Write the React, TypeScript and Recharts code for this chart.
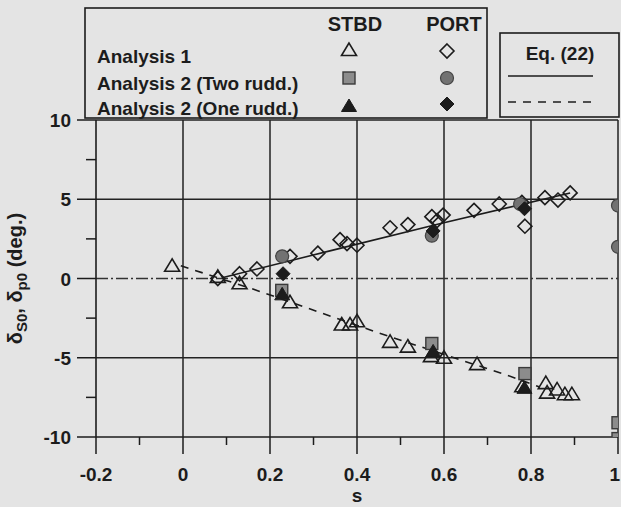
import React from 'react';
import {
  ComposedChart,
  XAxis,
  YAxis,
  Line,
  Scatter,
  ReferenceLine,
  Legend,
  Label,
} from 'recharts';

const BG = '#e4e4e4';
const INK = '#1c1c1c';
const FONT = '"Liberation Sans", Arial, Helvetica, sans-serif';

// axis ticks
const X_MAJOR = [-0.2, 0, 0.2, 0.4, 0.6, 0.8, 1];
const X_LABELS = ['-0.2', '0', '0.2', '0.4', '0.6', '0.8', '1'];
const X_MINOR = [-0.1, 0.1, 0.3, 0.5, 0.7, 0.9];
const Y_MAJOR = [10, 5, 0, -5, -10];
const Y_LABELS = ['10', '5', '0', '-5', '-10'];
const Y_MINOR = [7.5, 2.5, -2.5, -7.5];

// Analysis 1
const stbdAnalysis1 = [
  { x: -0.025, y: 0.8 }, { x: 0.08, y: 0.1 }, { x: 0.13, y: -0.3 },
  { x: 0.246, y: -1.5 }, { x: 0.365, y: -2.9 }, { x: 0.384, y: -2.9 },
  { x: 0.4, y: -2.7 }, { x: 0.476, y: -4.0 }, { x: 0.517, y: -4.3 },
  { x: 0.57, y: -4.9 }, { x: 0.6, y: -5.0 }, { x: 0.676, y: -5.4 },
  { x: 0.78, y: -6.8 }, { x: 0.834, y: -6.6 }, { x: 0.837, y: -7.2 },
  { x: 0.86, y: -7.0 }, { x: 0.878, y: -7.3 }, { x: 0.894, y: -7.3 },
];
const portAnalysis1 = [
  { x: 0.08, y: 0.0 }, { x: 0.13, y: 0.3 }, { x: 0.17, y: 0.6 },
  { x: 0.246, y: 1.4 }, { x: 0.31, y: 1.6 }, { x: 0.361, y: 2.45 },
  { x: 0.377, y: 2.2 }, { x: 0.4, y: 2.1 }, { x: 0.476, y: 3.2 },
  { x: 0.517, y: 3.4 }, { x: 0.572, y: 3.9 }, { x: 0.584, y: 3.65 },
  { x: 0.598, y: 4.0 }, { x: 0.669, y: 4.3 }, { x: 0.727, y: 4.7 },
  { x: 0.779, y: 4.8 }, { x: 0.786, y: 3.3 }, { x: 0.832, y: 5.1 },
  { x: 0.862, y: 4.95 }, { x: 0.89, y: 5.4 },
];

// Analysis 2
const stbdTwoRudd = [
  { x: 0.227, y: -0.75 }, { x: 0.572, y: -4.1 }, { x: 0.786, y: -6.0 },
  { x: 1, y: -9.1 }, { x: 1, y: -10.1 },
];
const stbdOneRudd = [
  { x: 0.228, y: -1.0 }, { x: 0.575, y: -4.6 }, { x: 0.785, y: -6.9 },
];
const portTwoRudd = [
  { x: 0.228, y: 1.4 }, { x: 0.572, y: 2.7 }, { x: 0.775, y: 4.7 },
  { x: 1, y: 4.6 }, { x: 1, y: 2.0 },
];
const portOneRudd = [
  { x: 0.23, y: 0.3 }, { x: 0.575, y: 3.0 }, { x: 0.785, y: 4.4 },
];

// Eq. (22)
const eqPort = [
  { x: 0.09, y: 0.05 }, { x: 0.34, y: 1.76 }, { x: 0.59, y: 3.45 }, { x: 0.89, y: 5.4 },
];
const eqStbd = [
  { x: -0.005, y: 0.8 }, { x: 0.17, y: -0.75 }, { x: 0.446, y: -3.4 },
  { x: 0.745, y: -6.1 }, { x: 0.82, y: -6.85 },
];

type P = { cx?: number; cy?: number };

const OpenTriangle = ({ cx = 0, cy = 0 }: P) => (
  <polygon
    points={`${cx},${cy - 7} ${cx - 7.5},${cy + 5.5} ${cx + 7.5},${cy + 5.5}`}
    fill="none" stroke={INK} strokeWidth={1.6}
  />
);
const FilledTriangle = ({ cx = 0, cy = 0 }: P) => (
  <polygon
    points={`${cx},${cy - 7} ${cx - 7.5},${cy + 5.5} ${cx + 7.5},${cy + 5.5}`}
    fill={INK} stroke={INK} strokeWidth={1}
  />
);
const OpenDiamond = ({ cx = 0, cy = 0 }: P) => (
  <polygon
    points={`${cx},${cy - 7} ${cx + 7},${cy} ${cx},${cy + 7} ${cx - 7},${cy}`}
    fill="none" stroke={INK} strokeWidth={1.6}
  />
);
const FilledDiamond = ({ cx = 0, cy = 0 }: P) => (
  <polygon
    points={`${cx},${cy - 7} ${cx + 7},${cy} ${cx},${cy + 7} ${cx - 7},${cy}`}
    fill={INK} stroke={INK} strokeWidth={1}
  />
);
const GraySquare = ({ cx = 0, cy = 0 }: P) => (
  <rect x={cx - 6} y={cy - 6} width={12} height={12} fill="#8c8c8c" stroke="#3a3a3a" strokeWidth={1.4} />
);
const GrayCircle = ({ cx = 0, cy = 0 }: P) => (
  <circle cx={cx} cy={cy} r={6.5} fill="#727272" stroke="#444" strokeWidth={1.2} />
);

const XTick = (props: any) => {
  const { x, y, payload } = props;
  const i = X_MAJOR.indexOf(payload.value);
  if (i < 0) {
    return <line x1={x} x2={x} y1={y} y2={y + 8} stroke={INK} strokeWidth={1.5} />;
  }
  // last label sits on the right edge, keep it inside the picture
  const last = i === X_MAJOR.length - 1;
  return (
    <g>
      <line x1={x} x2={x} y1={y} y2={y + 17} stroke={INK} strokeWidth={1.5} />
      <text
        x={last ? x + 2 : x} y={y + 44} textAnchor={last ? 'end' : 'middle'}
        fontFamily={FONT} fontWeight="bold" fontSize={19} fill={INK}
      >
        {X_LABELS[i]}
      </text>
    </g>
  );
};

const YTick = (props: any) => {
  const { x, y, payload } = props;
  const i = Y_MAJOR.indexOf(payload.value);
  if (i < 0) {
    return <line x1={x - 10} x2={x} y1={y} y2={y} stroke={INK} strokeWidth={1.5} />;
  }
  return (
    <g>
      <line x1={x - 19} x2={x} y1={y} y2={y} stroke={INK} strokeWidth={1.5} />
      <text x={x - 25} y={y + 7} textAnchor="end" fontFamily={FONT} fontWeight="bold" fontSize={19} fill={INK}>
        {Y_LABELS[i]}
      </text>
    </g>
  );
};

const XLabel = ({ viewBox }: any) => (
  <text
    x={viewBox.x + viewBox.width / 2} y={viewBox.y + 65} textAnchor="middle"
    fontFamily={FONT} fontWeight="bold" fontSize={19} fill={INK}
  >
    s
  </text>
);

const YLabel = ({ viewBox }: any) => {
  const cx = viewBox.x + 22;
  const cy = viewBox.y + viewBox.height / 2;
  return (
    <text
      x={cx} y={cy} textAnchor="middle" transform={`rotate(-90, ${cx}, ${cy})`}
      fontFamily={FONT} fontWeight="bold" fontSize={20} fill={INK}
    >
      δ<tspan fontSize={15} dy={5}>S0</tspan>
      <tspan dy={-5}>, δ</tspan>
      <tspan fontSize={15} dy={5}>p0</tspan>
      <tspan dy={-5}> (deg.)</tspan>
    </text>
  );
};

const textStyle = { fontFamily: FONT, fontWeight: 'bold' as const, fontSize: 19, fill: INK };

const renderLegend = () => (
  <svg width={621} height={120} style={{ display: 'block' }}>
    <rect x={85} y={8} width={402} height={110} fill={BG} stroke={INK} strokeWidth={1.6} />
    <text x={355} y={31} textAnchor="middle" {...textStyle} fontSize={20}>STBD</text>
    <text x={454} y={31} textAnchor="middle" {...textStyle} fontSize={20}>PORT</text>
    <text x={97} y={63} {...textStyle}>Analysis 1</text>
    <text x={97} y={90} {...textStyle}>Analysis 2 (Two rudd.)</text>
    <text x={97} y={115} {...textStyle}>Analysis 2 (One rudd.)</text>
    <OpenTriangle cx={349} cy={50} />
    <OpenDiamond cx={447} cy={51} />
    <GraySquare cx={349} cy={78} />
    <GrayCircle cx={447} cy={78} />
    <FilledTriangle cx={349} cy={106} />
    <FilledDiamond cx={447} cy={104} />

    <rect x={500} y={33} width={119} height={84} fill={BG} stroke={INK} strokeWidth={1.6} />
    <text x={560} y={60} textAnchor="middle" {...textStyle}>Eq. (22)</text>
    <line x1={508} x2={593} y1={76} y2={76} stroke={INK} strokeWidth={1.5} />
    <line x1={508} x2={593} y1={102} y2={102} stroke={INK} strokeWidth={1.5} strokeDasharray="8 7" />
  </svg>
);

const grid = { stroke: '#222', strokeWidth: 1.5 };

export default function App() {
  return (
    <div style={{ position: 'absolute', left: 0, top: 0, width: 621, height: 507, background: BG }}>
      <ComposedChart width={621} height={507} margin={{ top: 120, right: 3, bottom: 0, left: 0 }}>
        <XAxis
          type="number" dataKey="x" domain={[-0.2, 1]} allowDataOverflow
          ticks={[...X_MAJOR, ...X_MINOR]} interval={0}
          tick={<XTick />} tickLine={false} tickSize={0} tickMargin={0}
          axisLine={{ stroke: INK, strokeWidth: 1.6 }} height={70}
          label={<Label content={<XLabel />} />}
        />
        <YAxis
          type="number" domain={[-10, 10]} allowDataOverflow
          ticks={[...Y_MAJOR, ...Y_MINOR]} interval={0}
          tick={<YTick />} tickLine={false} tickSize={0} tickMargin={0}
          axisLine={{ stroke: INK, strokeWidth: 1.6 }} width={96}
          label={<Label content={<YLabel />} />}
        />

        {X_MAJOR.slice(1).map((v) => (
          <ReferenceLine key={`gx${v}`} x={v} {...grid} />
        ))}
        <ReferenceLine y={10} {...grid} />
        <ReferenceLine y={5} {...grid} />
        <ReferenceLine y={-5} {...grid} />
        <ReferenceLine y={0} stroke="#333" strokeWidth={1.4} strokeDasharray="12 3 2 3" />

        <Line data={eqPort} dataKey="y" type="linear" stroke={INK} strokeWidth={1.6} dot={false} isAnimationActive={false} />
        <Line data={eqStbd} dataKey="y" type="linear" stroke={INK} strokeWidth={1.6} strokeDasharray="8 7" dot={false} isAnimationActive={false} />

        <Scatter data={stbdAnalysis1} dataKey="y" shape={<OpenTriangle />} isAnimationActive={false} />
        <Scatter data={portAnalysis1} dataKey="y" shape={<OpenDiamond />} isAnimationActive={false} />
        <Scatter data={stbdTwoRudd} dataKey="y" shape={<GraySquare />} isAnimationActive={false} />
        <Scatter data={portTwoRudd} dataKey="y" shape={<GrayCircle />} isAnimationActive={false} />
        <Scatter data={stbdOneRudd} dataKey="y" shape={<FilledTriangle />} isAnimationActive={false} />
        <Scatter data={portOneRudd} dataKey="y" shape={<FilledDiamond />} isAnimationActive={false} />

        <Legend
          content={renderLegend} verticalAlign="middle" align="center" layout="horizontal"
          wrapperStyle={{ left: 0, top: 0, width: 621, height: 120 }}
        />
      </ComposedChart>
    </div>
  );
}
